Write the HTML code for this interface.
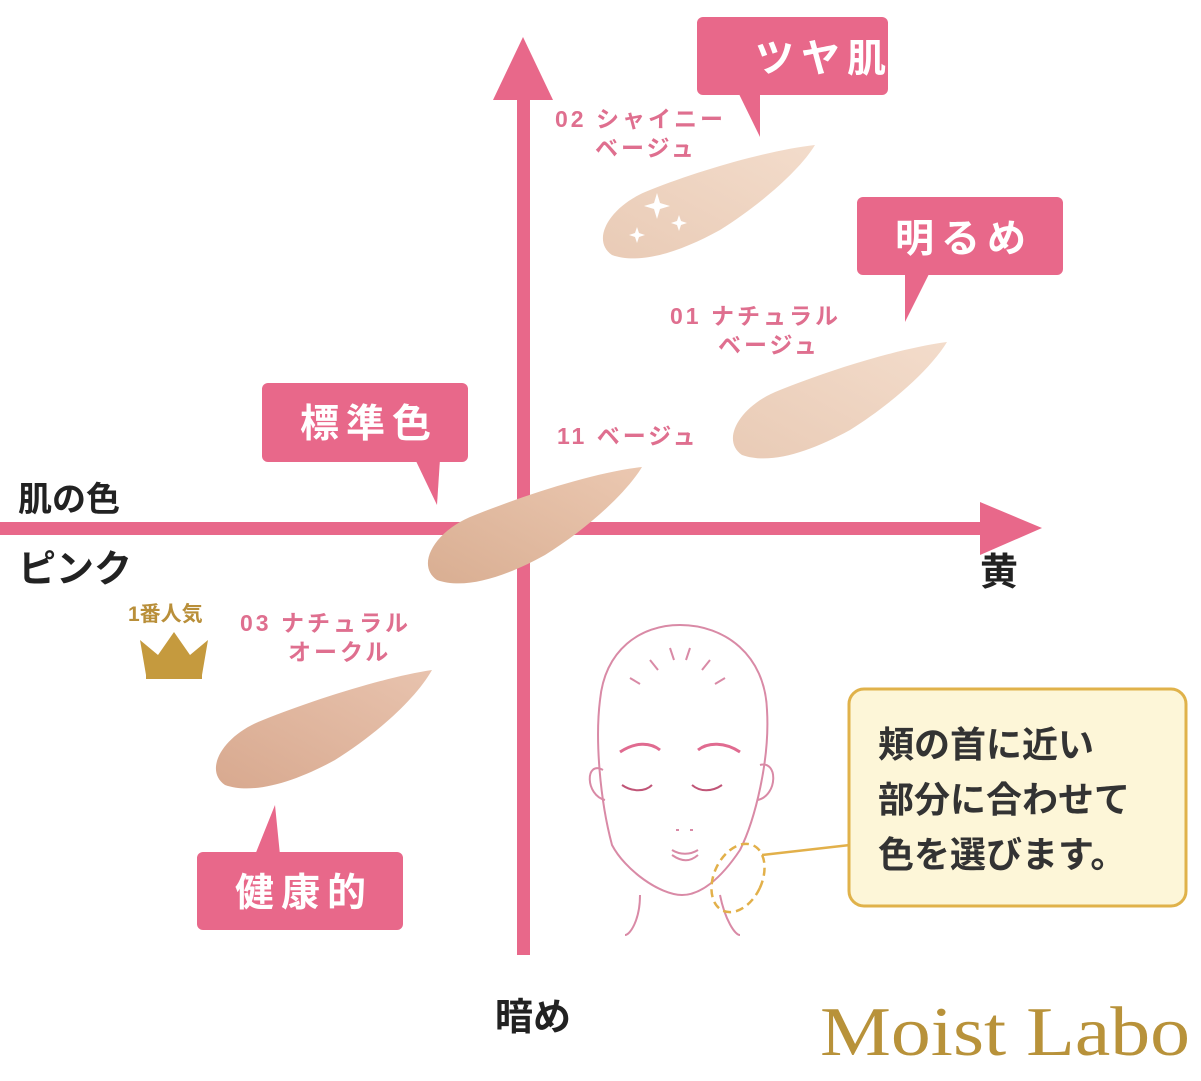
<!DOCTYPE html>
<html><head><meta charset="utf-8"><style>
body{margin:0;background:#fff}
svg{display:block}
text{font-family:"Liberation Sans","Noto Sans CJK JP",sans-serif}
text.serif{font-family:"Liberation Serif",serif}
</style></head><body>
<svg width="1201" height="1081" viewBox="0 0 1201 1081" xmlns="http://www.w3.org/2000/svg">
<defs>
<linearGradient id="g1" x1="0" y1="1" x2="1" y2="0"><stop offset="0" stop-color="#e9cbb6"/><stop offset="1" stop-color="#f3dccb"/></linearGradient>
<linearGradient id="g3" x1="0" y1="1" x2="1" y2="0"><stop offset="0" stop-color="#d9ae92"/><stop offset="1" stop-color="#ebc8b1"/></linearGradient>
<linearGradient id="g4" x1="0" y1="1" x2="1" y2="0"><stop offset="0" stop-color="#d8a98f"/><stop offset="1" stop-color="#e8c3ae"/></linearGradient>
</defs>
<rect x="517" y="95" width="13" height="860" fill="#e8688a"/>
<polygon points="493,100 523,37 553,100" fill="#e8688a"/>
<rect x="0" y="522" width="985" height="13" fill="#e8688a"/>
<polygon points="980,502 1042,528 980,555" fill="#e8688a"/>
<path d="M612,255 C590,240 610,205 650,190 C700,170 770,150 815,145 C800,170 760,205 720,230 C680,252 640,265 612,255Z" fill="url(#g1)"/>
<path d="M742,455 C720,440 740,405 780,390 C830,370 900,348 947,342 C930,370 890,405 850,430 C810,452 770,465 742,455Z" fill="url(#g1)"/>
<path d="M437,580 C415,565 435,530 475,515 C525,495 595,472 642,467 C625,495 585,530 545,555 C505,577 465,590 437,580Z" fill="url(#g3)"/>
<path d="M225,785 C203,770 223,735 263,720 C313,700 385,677 432,670 C415,700 375,735 335,760 C295,782 253,795 225,785Z" fill="url(#g4)"/>
<g fill="#fff"><path d="M657,193 l3,10 l10,3 l-10,3 l-3,10 l-3,-10 l-10,-3 l10,-3z"/><path d="M637,227 l2,6 l6,2 l-6,2 l-2,6 l-2,-6 l-6,-2 l6,-2z"/><path d="M679,215 l2,6 l6,2 l-6,2 l-2,6 l-2,-6 l-6,-2 l6,-2z"/></g>
<g fill="#e8688a">
<rect x="697" y="17" width="191" height="78" rx="6"/><polygon points="738,92 760,92 760,137"/>
<rect x="857" y="197" width="206" height="78" rx="6"/><polygon points="905,272 930,272 905,322"/>
<rect x="262" y="383" width="206" height="79" rx="6"/><polygon points="415,459 440,459 437,505"/>
<rect x="197" y="852" width="206" height="78" rx="6"/><polygon points="255,855 280,855 275,805"/>
</g>
<g fill="#fff" font-size="39" font-weight="bold" letter-spacing="7">
<text x="755" y="72">ツヤ肌</text>
<text x="895" y="252">明るめ</text>
<text x="300" y="437">標準色</text>
<text x="235" y="906">健康的</text>
</g>
<g fill="#df6f8f" font-size="23" font-weight="bold" letter-spacing="3">
<text x="555" y="127">02 シャイニー</text><text x="595" y="156">ベージュ</text>
<text x="670" y="324">01 ナチュラル</text><text x="718" y="353">ベージュ</text>
<text x="557" y="444">11 ベージュ</text>
<text x="240" y="631">03 ナチュラル</text><text x="288" y="660">オークル</text>
</g>
<text x="128" y="621" font-size="21" fill="#b98f3a" font-weight="bold">1番人気</text>
<path d="M146,675 L140,640 L158,655 L174,632 L190,655 L208,640 L202,675Z" fill="#c59a3e"/>
<rect x="146" y="673" width="56" height="6" fill="#c59a3e"/>
<g fill="#222" font-weight="bold">
<text x="18" y="511" font-size="34">肌の色</text>
<text x="18" y="582" font-size="38">ピンク</text>
<text x="980" y="585" font-size="38">黄</text>
<text x="495" y="1030" font-size="38">暗め</text>
</g>
<g fill="none" stroke="#d98aa6" stroke-width="2">
<path d="M612,845 C600,800 595,740 600,700 C605,650 640,625 680,625 C725,625 765,655 767,710 C770,760 755,820 740,850 C720,880 700,895 682,895 C660,895 625,870 612,845Z"/>
<path d="M603,770 C585,760 585,795 605,800"/><path d="M760,765 C778,760 778,795 758,800"/>
<path d="M640,895 C640,920 630,935 625,935"/><path d="M720,895 C725,920 735,935 740,935"/>
<path d="M650,660 l8,10 M670,648 l4,12 M690,648 l-4,12 M710,660 l-8,10 M630,678 l10,6 M725,678 l-10,6"/>
<path d="M672,850 C680,855 690,855 698,850 M672,855 C682,862 690,862 698,855"/>
<path d="M676,830 l3,0 M690,830 l3,0"/>
</g>
<g fill="none" stroke="#e06b90" stroke-width="3"><path d="M620,752 C635,742 650,742 660,750"/><path d="M698,750 C708,742 725,742 740,752"/></g>
<g fill="none" stroke="#c05577" stroke-width="2"><path d="M622,785 C632,792 645,792 652,785"/><path d="M692,785 C700,792 712,792 722,785"/></g>
<ellipse cx="738" cy="878" rx="24" ry="36" transform="rotate(25 738 878)" fill="none" stroke="#e2b04a" stroke-width="2.5" stroke-dasharray="8 5"/>
<line x1="762" y1="855" x2="850" y2="845" stroke="#e2b04a" stroke-width="2.5"/>
<rect x="849" y="689" width="337" height="217" rx="15" fill="#fdf6d8" stroke="#e0b24a" stroke-width="3"/>
<g font-size="36" fill="#333" font-weight="bold"><text x="878" y="757">頬の首に近い</text><text x="878" y="812">部分に合わせて</text><text x="878" y="867">色を選びます。</text></g>
<text class="serif" x="820" y="1055" font-size="70" fill="#b8923a" textLength="370" lengthAdjust="spacingAndGlyphs">Moist Labo</text>
</svg>
</body></html>
